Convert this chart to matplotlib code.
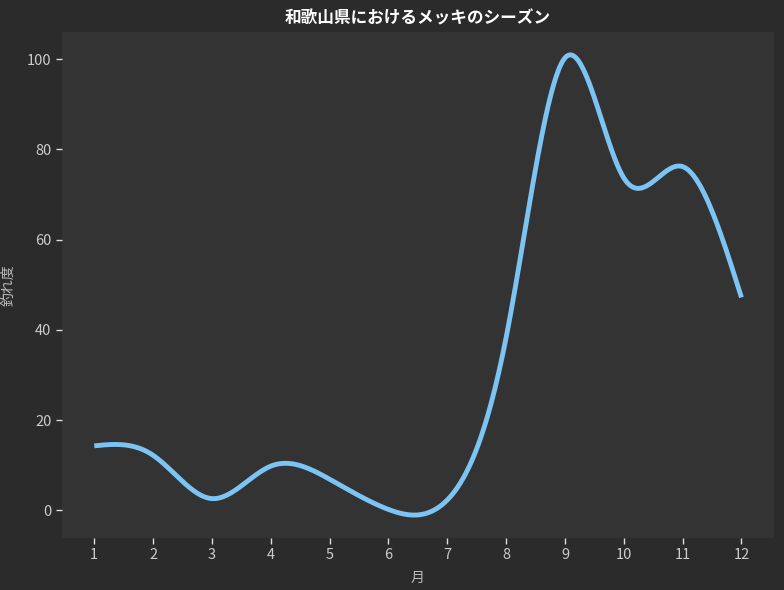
import numpy as np
import matplotlib
matplotlib.use("Agg")
import matplotlib.pyplot as plt

months = [1, 2, 3, 4, 5, 6, 7, 8, 9, 10, 11, 12]
catch_index = [14.3, 12.2, 2.6, 9.8, 6.9, 0.2, 2.3, 38.3, 100.3, 73.7, 76.2, 47.2]
title = "和歌山県におけるメッキのシーズン"
xlabel = "月"
ylabel = "釣れ度"


def natural_spline(x, y, xs):
    x = np.asarray(x, float)
    y = np.asarray(y, float)
    n = len(x)
    h = np.diff(x)
    A = np.zeros((n, n))
    r = np.zeros(n)
    A[0, 0] = 1.0
    A[-1, -1] = 1.0
    for i in range(1, n - 1):
        A[i, i - 1] = h[i - 1]
        A[i, i] = 2 * (h[i - 1] + h[i])
        A[i, i + 1] = h[i]
        r[i] = 6 * ((y[i + 1] - y[i]) / h[i] - (y[i] - y[i - 1]) / h[i - 1])
    M = np.linalg.solve(A, r)
    idx = np.clip(np.searchsorted(x, xs) - 1, 0, n - 2)
    t = xs - x[idx]
    hi = h[idx]
    b = (y[idx + 1] - y[idx]) / hi - hi * (2 * M[idx] + M[idx + 1]) / 6
    return y[idx] + b * t + M[idx] / 2 * t ** 2 + (M[idx + 1] - M[idx]) / (6 * hi) * t ** 3


plt.rcParams['font.family'] = ['Noto Sans CJK JP', 'DejaVu Sans']

fig = plt.figure(figsize=(7.84, 5.9), dpi=100, facecolor='#2b2b2b')
ax = fig.add_axes([0.079, 0.088, 0.908, 0.858])
ax.set_facecolor('#333333')

xs = np.linspace(months[0], months[-1], 500)
ax.plot(xs, natural_spline(months, catch_index, xs), color='#7cc4f4', linewidth=3.5,
        solid_capstyle='butt')

ax.set_xticks(months)
ax.set_xticklabels([str(m) for m in months])
ax.tick_params(colors='#dddddd', labelcolor='#cccccc', labelsize=10.5, length=4, width=1)
for s in ax.spines.values():
    s.set_visible(False)
ax.set_title(title, color='white', fontsize=12, fontweight='bold', pad=6)
ax.set_xlabel(xlabel, color='#bbbbbb', fontsize=10, labelpad=6)
ax.set_ylabel(ylabel, color='#bbbbbb', fontsize=10, labelpad=8)

fig.savefig('out.png', dpi=100, facecolor=fig.get_facecolor())
